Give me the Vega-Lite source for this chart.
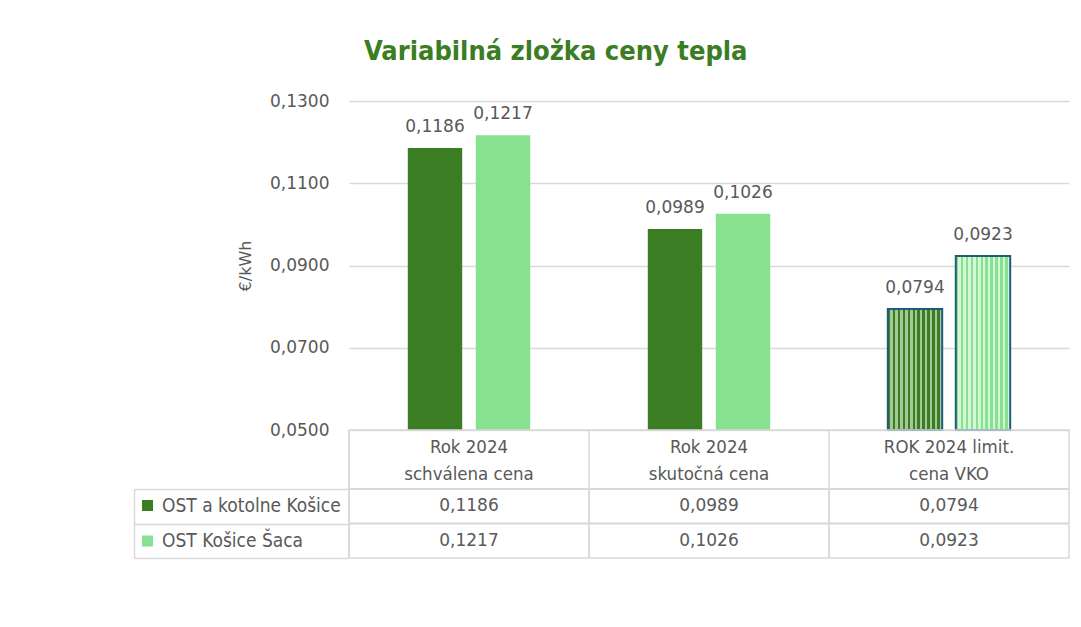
{
  "$schema": "https://vega.github.io/schema/vega-lite/v6.json",
  "padding": {"left": 132, "top": 38, "right": 12, "bottom": 69},
  "background": "white",
  "title": {
    "text": "Variabilná zložka ceny tepla",
    "anchor": "start",
    "frame": "group",
    "dx": 15,
    "offset": 26,
    "font": "Liberation Sans Narrow, DejaVu Sans Condensed",
    "fontSize": 27,
    "fontWeight": "bold",
    "color": "#3b7d23"
  },
  "datasets": {
    "d": [
      {"cat": "Rok 2024\nschválena  cena", "series": "OST a kotolne Košice", "value": 0.1186},
      {"cat": "Rok 2024\nschválena  cena", "series": "OST Košice Šaca", "value": 0.1217},
      {"cat": "Rok 2024\nskutočná cena", "series": "OST a kotolne Košice", "value": 0.0989},
      {"cat": "Rok 2024\nskutočná cena", "series": "OST Košice Šaca", "value": 0.1026},
      {"cat": "ROK 2024 limit.\ncena VKO", "series": "OST a kotolne Košice", "value": 0.0794},
      {"cat": "ROK 2024 limit.\ncena VKO", "series": "OST Košice Šaca", "value": 0.0923}
    ]
  },
  "spacing": 0,
  "bounds": "flush",
  "resolve": {"scale": {"x": "independent", "y": "independent"}, "legend": {"color": "independent"}},
  "config": {
    "locale": {"number": {"decimal": ",", "thousands": " ", "grouping": [3], "currency": ["", " €"]}},
    "view": {"stroke": null}
  },
  "vconcat": [
    {
      "width": 720,
      "height": 329,
      "data": {"name": "d"},
      "encoding": {
        "x": {"field": "cat", "type": "nominal", "sort": null, "axis": null, "scale": {"paddingInner": 0.49, "paddingOuter": 0.245}},
        "xOffset": {"field": "series", "type": "nominal", "sort": null, "scale": {"paddingInner": 0.2, "paddingOuter": 0}},
        "y": {
          "field": "value", "type": "quantitative",
          "scale": {"domain": [0.05, 0.13], "zero": false, "nice": false},
          "axis": {
            "values": [0.05, 0.07, 0.09, 0.11, 0.13],
            "format": ".4f",
            "labelFont": "DejaVu Sans",
            "labelFontSize": 17,
            "labelColor": "#595959",
            "labelPadding": 20,
            "ticks": false,
            "tickSize": 0,
            "domain": false,
            "grid": true,
            "gridColor": "#d9d9d9",
            "gridWidth": 1.5,
            "title": "€/kWh",
            "titleFont": "DejaVu Sans",
            "titleFontSize": 16,
            "titleFontWeight": "normal",
            "titleColor": "#595959",
            "titlePadding": 16
          }
        }
      },
      "layer": [
        {
          "transform": [{"filter": "indexof(datum.cat, 'VKO') < 0"}],
          "mark": {"type": "bar"},
          "encoding": {
            "y2": {"datum": 0.05},
            "color": {
              "field": "series", "type": "nominal", "sort": null,
              "scale": {"range": ["#3b7d23", "#86e28e"]},
              "legend": {
                "orient": "none",
                "legendX": -211,
                "legendY": 395,
                "title": null,
                "padding": 0,
                "symbolType": "square",
                "symbolSize": 121,
                "symbolStrokeWidth": 0,
                "labelFont": "DejaVu Sans Condensed",
                "labelFontSize": 19,
                "labelColor": "#595959",
                "labelOffset": 5,
                "labelLimit": 300,
                "rowPadding": 15.5
              }
            }
          }
        },
        {
          "transform": [{"filter": "indexof(datum.cat, 'VKO') >= 0"}],
          "mark": {"type": "bar", "stroke": "#1f5c7a", "strokeWidth": 2},
          "encoding": {
            "y2": {"datum": 0.05},
            "fill": {
              "condition": {
                "test": "datum.series === 'OST a kotolne Košice'",
                "value": {
                  "gradient": "linear", "x1": 0, "x2": 1, "y1": 0, "y2": 0,
                  "stops": [
                    {"offset": 0, "color": "#3b7d23"}, {"offset": 0.0455, "color": "#3b7d23"}, {"offset": 0.0455, "color": "#a3c795"}, {"offset": 0.0909, "color": "#a3c795"},
                    {"offset": 0.0909, "color": "#3b7d23"}, {"offset": 0.1364, "color": "#3b7d23"}, {"offset": 0.1364, "color": "#a3c795"}, {"offset": 0.1818, "color": "#a3c795"},
                    {"offset": 0.1818, "color": "#3b7d23"}, {"offset": 0.2273, "color": "#3b7d23"}, {"offset": 0.2273, "color": "#a3c795"}, {"offset": 0.2727, "color": "#a3c795"},
                    {"offset": 0.2727, "color": "#3b7d23"}, {"offset": 0.3182, "color": "#3b7d23"}, {"offset": 0.3182, "color": "#a3c795"}, {"offset": 0.3636, "color": "#a3c795"},
                    {"offset": 0.3636, "color": "#3b7d23"}, {"offset": 0.4091, "color": "#3b7d23"}, {"offset": 0.4091, "color": "#a3c795"}, {"offset": 0.4545, "color": "#a3c795"},
                    {"offset": 0.4545, "color": "#3b7d23"}, {"offset": 0.5, "color": "#3b7d23"}, {"offset": 0.5, "color": "#a3c795"}, {"offset": 0.5455, "color": "#a3c795"},
                    {"offset": 0.5455, "color": "#3b7d23"}, {"offset": 0.5909, "color": "#3b7d23"}, {"offset": 0.5909, "color": "#a3c795"}, {"offset": 0.6364, "color": "#a3c795"},
                    {"offset": 0.6364, "color": "#3b7d23"}, {"offset": 0.6818, "color": "#3b7d23"}, {"offset": 0.6818, "color": "#a3c795"}, {"offset": 0.7273, "color": "#a3c795"},
                    {"offset": 0.7273, "color": "#3b7d23"}, {"offset": 0.7727, "color": "#3b7d23"}, {"offset": 0.7727, "color": "#a3c795"}, {"offset": 0.8182, "color": "#a3c795"},
                    {"offset": 0.8182, "color": "#3b7d23"}, {"offset": 0.8636, "color": "#3b7d23"}, {"offset": 0.8636, "color": "#a3c795"}, {"offset": 0.9091, "color": "#a3c795"},
                    {"offset": 0.9091, "color": "#3b7d23"}, {"offset": 0.9545, "color": "#3b7d23"}, {"offset": 0.9545, "color": "#a3c795"}, {"offset": 1, "color": "#a3c795"}
                  ]
                }
              },
              "value": {
                "gradient": "linear", "x1": 0, "x2": 1, "y1": 0, "y2": 0,
                "stops": [
                  {"offset": 0, "color": "#86e28e"}, {"offset": 0.0455, "color": "#86e28e"}, {"offset": 0.0455, "color": "#d6f6d8"}, {"offset": 0.0909, "color": "#d6f6d8"},
                  {"offset": 0.0909, "color": "#86e28e"}, {"offset": 0.1364, "color": "#86e28e"}, {"offset": 0.1364, "color": "#d6f6d8"}, {"offset": 0.1818, "color": "#d6f6d8"},
                  {"offset": 0.1818, "color": "#86e28e"}, {"offset": 0.2273, "color": "#86e28e"}, {"offset": 0.2273, "color": "#d6f6d8"}, {"offset": 0.2727, "color": "#d6f6d8"},
                  {"offset": 0.2727, "color": "#86e28e"}, {"offset": 0.3182, "color": "#86e28e"}, {"offset": 0.3182, "color": "#d6f6d8"}, {"offset": 0.3636, "color": "#d6f6d8"},
                  {"offset": 0.3636, "color": "#86e28e"}, {"offset": 0.4091, "color": "#86e28e"}, {"offset": 0.4091, "color": "#d6f6d8"}, {"offset": 0.4545, "color": "#d6f6d8"},
                  {"offset": 0.4545, "color": "#86e28e"}, {"offset": 0.5, "color": "#86e28e"}, {"offset": 0.5, "color": "#d6f6d8"}, {"offset": 0.5455, "color": "#d6f6d8"},
                  {"offset": 0.5455, "color": "#86e28e"}, {"offset": 0.5909, "color": "#86e28e"}, {"offset": 0.5909, "color": "#d6f6d8"}, {"offset": 0.6364, "color": "#d6f6d8"},
                  {"offset": 0.6364, "color": "#86e28e"}, {"offset": 0.6818, "color": "#86e28e"}, {"offset": 0.6818, "color": "#d6f6d8"}, {"offset": 0.7273, "color": "#d6f6d8"},
                  {"offset": 0.7273, "color": "#86e28e"}, {"offset": 0.7727, "color": "#86e28e"}, {"offset": 0.7727, "color": "#d6f6d8"}, {"offset": 0.8182, "color": "#d6f6d8"},
                  {"offset": 0.8182, "color": "#86e28e"}, {"offset": 0.8636, "color": "#86e28e"}, {"offset": 0.8636, "color": "#d6f6d8"}, {"offset": 0.9091, "color": "#d6f6d8"},
                  {"offset": 0.9091, "color": "#86e28e"}, {"offset": 0.9545, "color": "#86e28e"}, {"offset": 0.9545, "color": "#d6f6d8"}, {"offset": 1, "color": "#d6f6d8"}
                ]
              }
            }
          }
        },
        {
          "mark": {"type": "text", "baseline": "bottom", "dy": -12, "font": "DejaVu Sans", "fontSize": 17, "fill": "#595959"},
          "encoding": {"text": {"field": "value", "type": "quantitative", "format": ".4f"}}
        }
      ]
    },
    {
      "width": 720,
      "height": 59,
      "view": {"stroke": "#d9d9d9", "strokeWidth": 1.5},
      "data": {"name": "d"},
      "transform": [{"filter": "datum.series === 'OST a kotolne Košice'"}],
      "layer": [
        {
          "mark": {"type": "text", "lineBreak": "\n", "lineHeight": 27, "baseline": "middle", "dy": -13, "font": "DejaVu Sans Condensed", "fontSize": 18.5, "fill": "#595959"},
          "encoding": {
            "x": {"field": "cat", "type": "nominal", "sort": null, "axis": null, "scale": {"padding": 0}},
            "text": {"field": "cat"}
          }
        },
        {
          "mark": {"type": "rule", "stroke": "#d9d9d9", "strokeWidth": 1.5},
          "encoding": {"x": {"field": "cat", "type": "nominal", "sort": null, "bandPosition": 0}}
        }
      ]
    },
    {
      "width": 720,
      "height": 69,
      "view": {"stroke": "#d9d9d9", "strokeWidth": 1.5},
      "data": {"name": "d"},
      "layer": [
        {
          "mark": {"type": "text", "font": "DejaVu Sans", "fontSize": 17, "fill": "#595959"},
          "encoding": {
            "x": {"field": "cat", "type": "nominal", "sort": null, "axis": null, "scale": {"padding": 0}},
            "y": {
              "field": "series", "type": "nominal", "sort": null, "scale": {"padding": 0},
              "axis": {
                "offset": 215,
                "tickBand": "extent",
                "tickSize": -215,
                "tickColor": "#d9d9d9",
                "tickWidth": 1.5,
                "domainColor": "#d9d9d9",
                "domainWidth": 1.5,
                "labels": false,
                "title": null,
                "grid": false
              }
            },
            "text": {"field": "value", "type": "quantitative", "format": ".4f"}
          }
        },
        {
          "mark": {"type": "rule", "stroke": "#d9d9d9", "strokeWidth": 1.5},
          "encoding": {"x": {"field": "cat", "type": "nominal", "sort": null, "bandPosition": 0}}
        },
        {
          "mark": {"type": "rule", "stroke": "#d9d9d9", "strokeWidth": 1.5},
          "encoding": {"y": {"field": "series", "type": "nominal", "sort": null, "bandPosition": 0}}
        }
      ]
    }
  ]
}
